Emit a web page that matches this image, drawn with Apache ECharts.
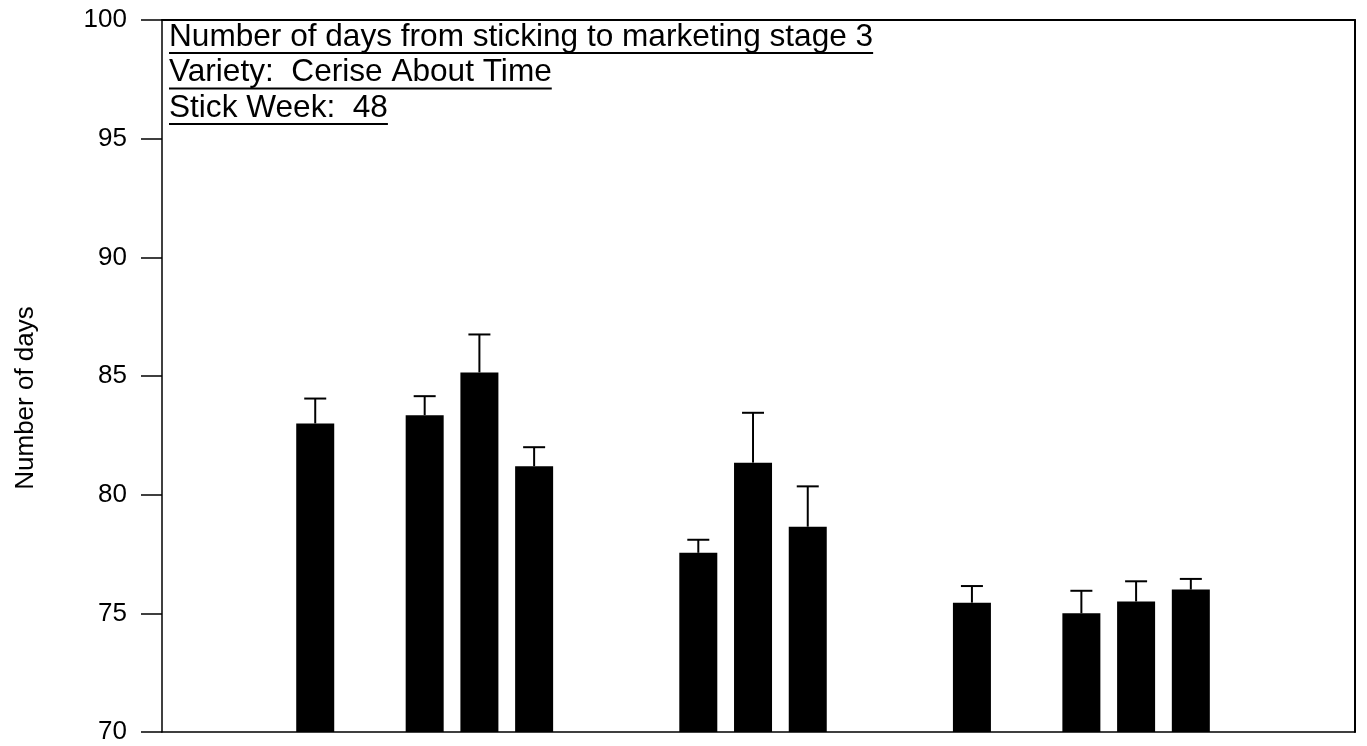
<!DOCTYPE html>
<html>
<head>
<meta charset="utf-8">
<title>Number of days from sticking to marketing stage 3</title>
<script src="https://cdn.jsdelivr.net/npm/echarts@6/dist/echarts.min.js"></script>
<style>
  html, body { margin: 0; padding: 0; background: #ffffff; }
  #chart { width: 1367px; height: 746px; }
</style>
</head>
<body>
<div id="chart"></div>
<script>
// Treatment slots along the (unlabelled) x axis; empty slots are simply absent.
const slotPositions = [0, 2, 3, 4, 7, 8, 9, 12, 14, 15, 16];
// Mean number of days from sticking to marketing stage 3
const meanDays = [83.0, 83.35, 85.15, 81.2, 77.55, 81.35, 78.65, 75.45, 75.0, 75.5, 76.0];
// Upper error (standard error) for each mean
const errorDays = [1.05, 0.8, 1.6, 0.8, 0.55, 2.1, 1.7, 0.7, 0.95, 0.85, 0.45];
// Y axis
const yTicks = [70, 75, 80, 85, 90, 95, 100];
const headerLines = [
  'Number of days from sticking to marketing stage 3',
  'Variety:  Cerise About Time',
  'Stick Week:  48'
];
const yAxisTitle = 'Number of days';

const FONT = "'Liberation Sans', Arial, Helvetica, sans-serif";
const HEADER_SIZE = 31.6;

const barData = slotPositions.map((p, i) => [p, meanDays[i]]);
const errData = slotPositions.map((p, i) => [p, meanDays[i], meanDays[i] + errorDays[i]]);

// Underlined header lines inside the plot frame
const measureCtx = document.createElement('canvas').getContext('2d');
measureCtx.font = HEADER_SIZE + 'px ' + FONT;
const headerGraphics = [];
headerLines.forEach((line, i) => {
  const baseline = 49.5 + i * 35.5;
  const w = measureCtx.measureText(line).width;
  headerGraphics.push({
    type: 'text', left: 169, top: baseline - 28.5,
    style: { text: line, font: HEADER_SIZE + 'px ' + FONT, fill: '#000' }
  });
  headerGraphics.push({
    type: 'line',
    shape: { x1: 169, y1: baseline + 3.5, x2: 169 + w, y2: baseline + 3.5 },
    style: { stroke: '#000', lineWidth: 2 }
  });
});

const chart = echarts.init(document.getElementById('chart'), null, { renderer: 'canvas' });

chart.setOption({
  backgroundColor: '#ffffff',
  animation: false,
  grid: { left: 162, right: 12, top: 20, bottom: 14, containLabel: false },
  xAxis: [
    {
      type: 'value', min: -2.8, max: 19, position: 'bottom',
      axisLine: { show: true, onZero: false, lineStyle: { color: '#000', width: 1.5 } },
      axisTick: { show: false }, axisLabel: { show: false }, splitLine: { show: false }
    },
    {
      type: 'value', min: -2.8, max: 19, position: 'top',
      axisLine: { show: true, onZero: false, lineStyle: { color: '#000', width: 2 } },
      axisTick: { show: false }, axisLabel: { show: false }, splitLine: { show: false }
    }
  ],
  yAxis: [
    {
      type: 'value', min: yTicks[0], max: yTicks[yTicks.length - 1], interval: 5,
      axisLine: { show: true, onZero: false, lineStyle: { color: '#000', width: 1.5 } },
      axisTick: { show: true, inside: false, length: 21, lineStyle: { color: '#000', width: 1.5 } },
      axisLabel: {
        margin: 35, color: '#000', fontSize: 26, fontFamily: FONT,
        formatter: v => (yTicks.indexOf(v) >= 0 ? String(v) : '')
      },
      splitLine: { show: false }
    },
    {
      type: 'value', min: yTicks[0], max: yTicks[yTicks.length - 1], position: 'right',
      axisLine: { show: true, onZero: false, lineStyle: { color: '#000', width: 2 } },
      axisTick: { show: false }, axisLabel: { show: false }, splitLine: { show: false }
    }
  ],
  series: [
    {
      type: 'bar',
      xAxisIndex: 0, yAxisIndex: 0,
      data: barData,
      barWidth: 38,
      itemStyle: { color: '#000' },
      z: 2
    },
    {
      type: 'custom',
      xAxisIndex: 0, yAxisIndex: 0,
      data: errData,
      z: 3,
      renderItem: function (params, api) {
        const x = api.coord([api.value(0), api.value(1)])[0];
        const yLow = api.coord([api.value(0), api.value(1)])[1];
        const yHigh = api.coord([api.value(0), api.value(2)])[1];
        const half = 11;
        return {
          type: 'group',
          children: [
            { type: 'line', shape: { x1: x, y1: yLow, x2: x, y2: yHigh },
              style: { stroke: '#000', lineWidth: 2 } },
            { type: 'line', shape: { x1: x - half, y1: yHigh, x2: x + half, y2: yHigh },
              style: { stroke: '#000', lineWidth: 2 } }
          ]
        };
      }
    }
  ],
  graphic: headerGraphics.concat([
    {
      type: 'text', x: 25.5, y: 398, rotation: Math.PI / 2,
      style: {
        text: yAxisTitle, font: '26px ' + FONT, fill: '#000',
        align: 'center', verticalAlign: 'middle'
      }
    }
  ])
});
</script>
</body>
</html>
